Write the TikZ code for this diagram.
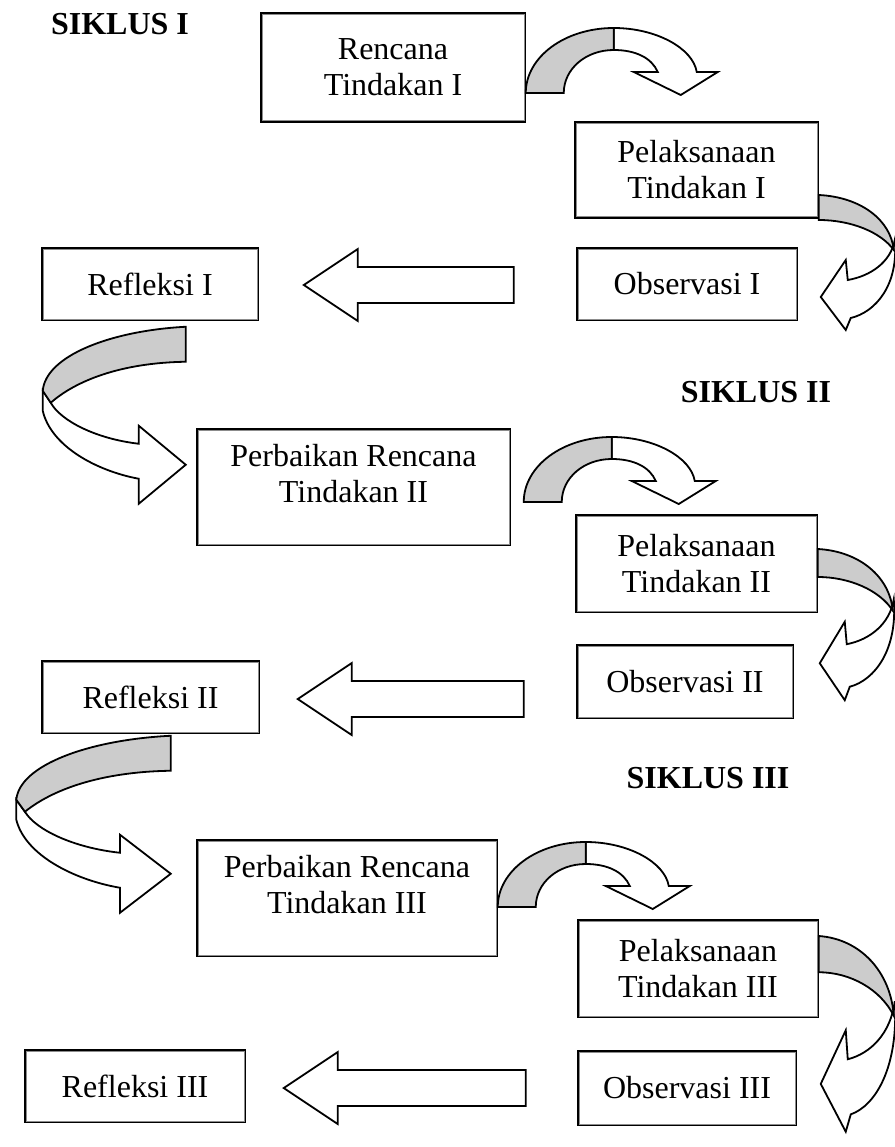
\documentclass[tikz,border=0pt]{standalone}
\usepackage{fontspec}
\setmainfont{Liberation Serif}
\usetikzlibrary{
    calc,
}

\tikzset{
    pics/toparc/.style={code={
        \draw[band, fill=white] (88,-65) .. controls (130,-65) and (167,-45) .. (171,-21) -- (192,-21) -- (155,2) -- (108,-21) -- (132,-21) .. controls (126,-35) and (110,-43) .. (88,-43) -- cycle;
        \draw[band, fill=backside] (0,0) .. controls (0,-36) and (39,-65) .. (88,-65) -- (88,-43) .. controls (60,-43) and (38,-24) .. (38,0) -- cycle;
    }},
    pics/rightarc/.style={code={
        \draw[band, fill=white] (76,45) .. controls (80,90) and (57,117) .. (32,123) -- (27,135) -- (2,102) -- (27,65) -- (29,85) .. controls (52,81) and (72,67) .. (76,45) -- cycle;
        \draw[band, fill=backside] (0,0) .. controls (42,2) and (72,25) .. (75,55) .. controls (62,37) and (32,25) .. (0,25) -- cycle;
    }},
    pics/leftarc/.style={code={
        \draw[band, fill=white] (-143,64) -- (-143,84) .. controls (-135,119) and (-90,144) .. (-47,152) -- (-47,177) -- (0,138) -- (-47,99) -- (-47,117) .. controls (-90,112) and (-125,94) .. (-135,76) -- cycle;
        \draw[band, fill=backside] (0,0) .. controls (-75,4) and (-140,29) .. (-143,64) -- (-135,76) .. controls (-110,54) and (-65,36) .. (0,35) -- cycle;
    }},
    pics/flatarrow/.style={code={
        \draw[band, fill=white] (0,0) -- (54,-36) -- (54,-18) -- (#1,-18) -- (#1,18) -- (54,18) -- (54,36) -- cycle;
    }},
}

\begin{document}
\begin{tikzpicture}[
        x=1pt, y=-1pt,
        box/.style={rectangle, draw=black, line width=1.5pt, fill=white, align=center, inner sep=0pt,
            font=\fontsize{32}{36}\selectfont},
        innerline/.style={draw=black!45, line width=0.9pt},
        siklus/.style={font=\fontsize{32}{36}\selectfont\bfseries},
        band/.style={draw=black, line width=1.8pt, line join=miter},
        thinband/.style={band, line width=0.9pt},
        ]
        \colorlet{backside}{black!20}
        \useasboundingbox (0,0) rectangle (894,1147);

        \node[siklus] (S1) at (120,24)   {SIKLUS I};
        \node[siklus] (S2) at (756,392)  {SIKLUS II};
        \node[siklus] (S3) at (708,778)  {SIKLUS III};

        \node[box, minimum width=264, minimum height=109] (REN1) at (393,67.5)  {Rencana\\Tindakan I};
        \node[box, minimum width=243, minimum height=96]  (PEL1) at (696.5,170) {Pelaksanaan\\Tindakan I};
        \node[box, minimum width=220, minimum height=72]  (OBS1) at (687,284)   {Observasi I};
        \node[box, minimum width=216, minimum height=72]  (REF1) at (150,284)   {Refleksi I};

        \node[box, minimum width=313, minimum height=116, text depth=27pt] (PER2) at (353.5,487) {Perbaikan Rencana\\Tindakan II};
        \node[box, minimum width=241, minimum height=97]  (PEL2) at (696.5,563.5) {Pelaksanaan\\Tindakan II};
        \node[box, minimum width=216, minimum height=73]  (OBS2) at (685,681.5)   {Observasi II};
        \node[box, minimum width=217, minimum height=72]  (REF2) at (150.5,697)   {Refleksi II};

        \node[box, minimum width=300, minimum height=116, text depth=27pt] (PER3) at (347,898) {Perbaikan Rencana\\Tindakan III};
        \node[box, minimum width=240, minimum height=97]  (PEL3) at (698,968.5) {Pelaksanaan\\Tindakan III};
        \node[box, minimum width=218, minimum height=74]  (OBS3) at (687,1088)  {Observasi III};
        \node[box, minimum width=220, minimum height=72]  (REF3) at (135,1086)  {Refleksi III};

        % grey inner rule of the box frames
        \foreach \n in {REN1,PEL1,OBS1,REF1,PER2,PEL2,OBS2,REF2,PER3,PEL3,OBS3,REF3}
            \draw[innerline] ($(\n.south west)+(1.8,-1.8)$) rectangle ($(\n.north east)+(-1.8,1.8)$);

        % siklus I
        \pic at ($(REN1.east)+(0,25.5)$) {toparc};
        \pic at ($(PEL1.east)+(0,25)$) {rightarc};
        \pic[thinband] at ($(REF1.east)+(45,1)$) {flatarrow=210};
        \pic at ($(REF1.south east)+(-73,6)$) {leftarc};
        % siklus II
        \pic at ($(PER2.east)+(13,15)$) {toparc};
        \pic[yscale=1.12] at ($(PEL2.east)+(0,-14.5)$) {rightarc};
        \pic at ($(REF2.east)+(38,2)$) {flatarrow=226};
        \pic[xscale=1.08] at ($(REF2.south east)+(-89,2)$) {leftarc};
        % siklus III
        \pic at ($(PER3.east)+(0,9)$) {toparc};
        \pic[yscale=1.45] at ($(PEL3.east)+(0,-32.5)$) {rightarc};
        \pic at ($(REF3.east)+(38,2)$) {flatarrow=242};

    \end{tikzpicture}
\end{document}
